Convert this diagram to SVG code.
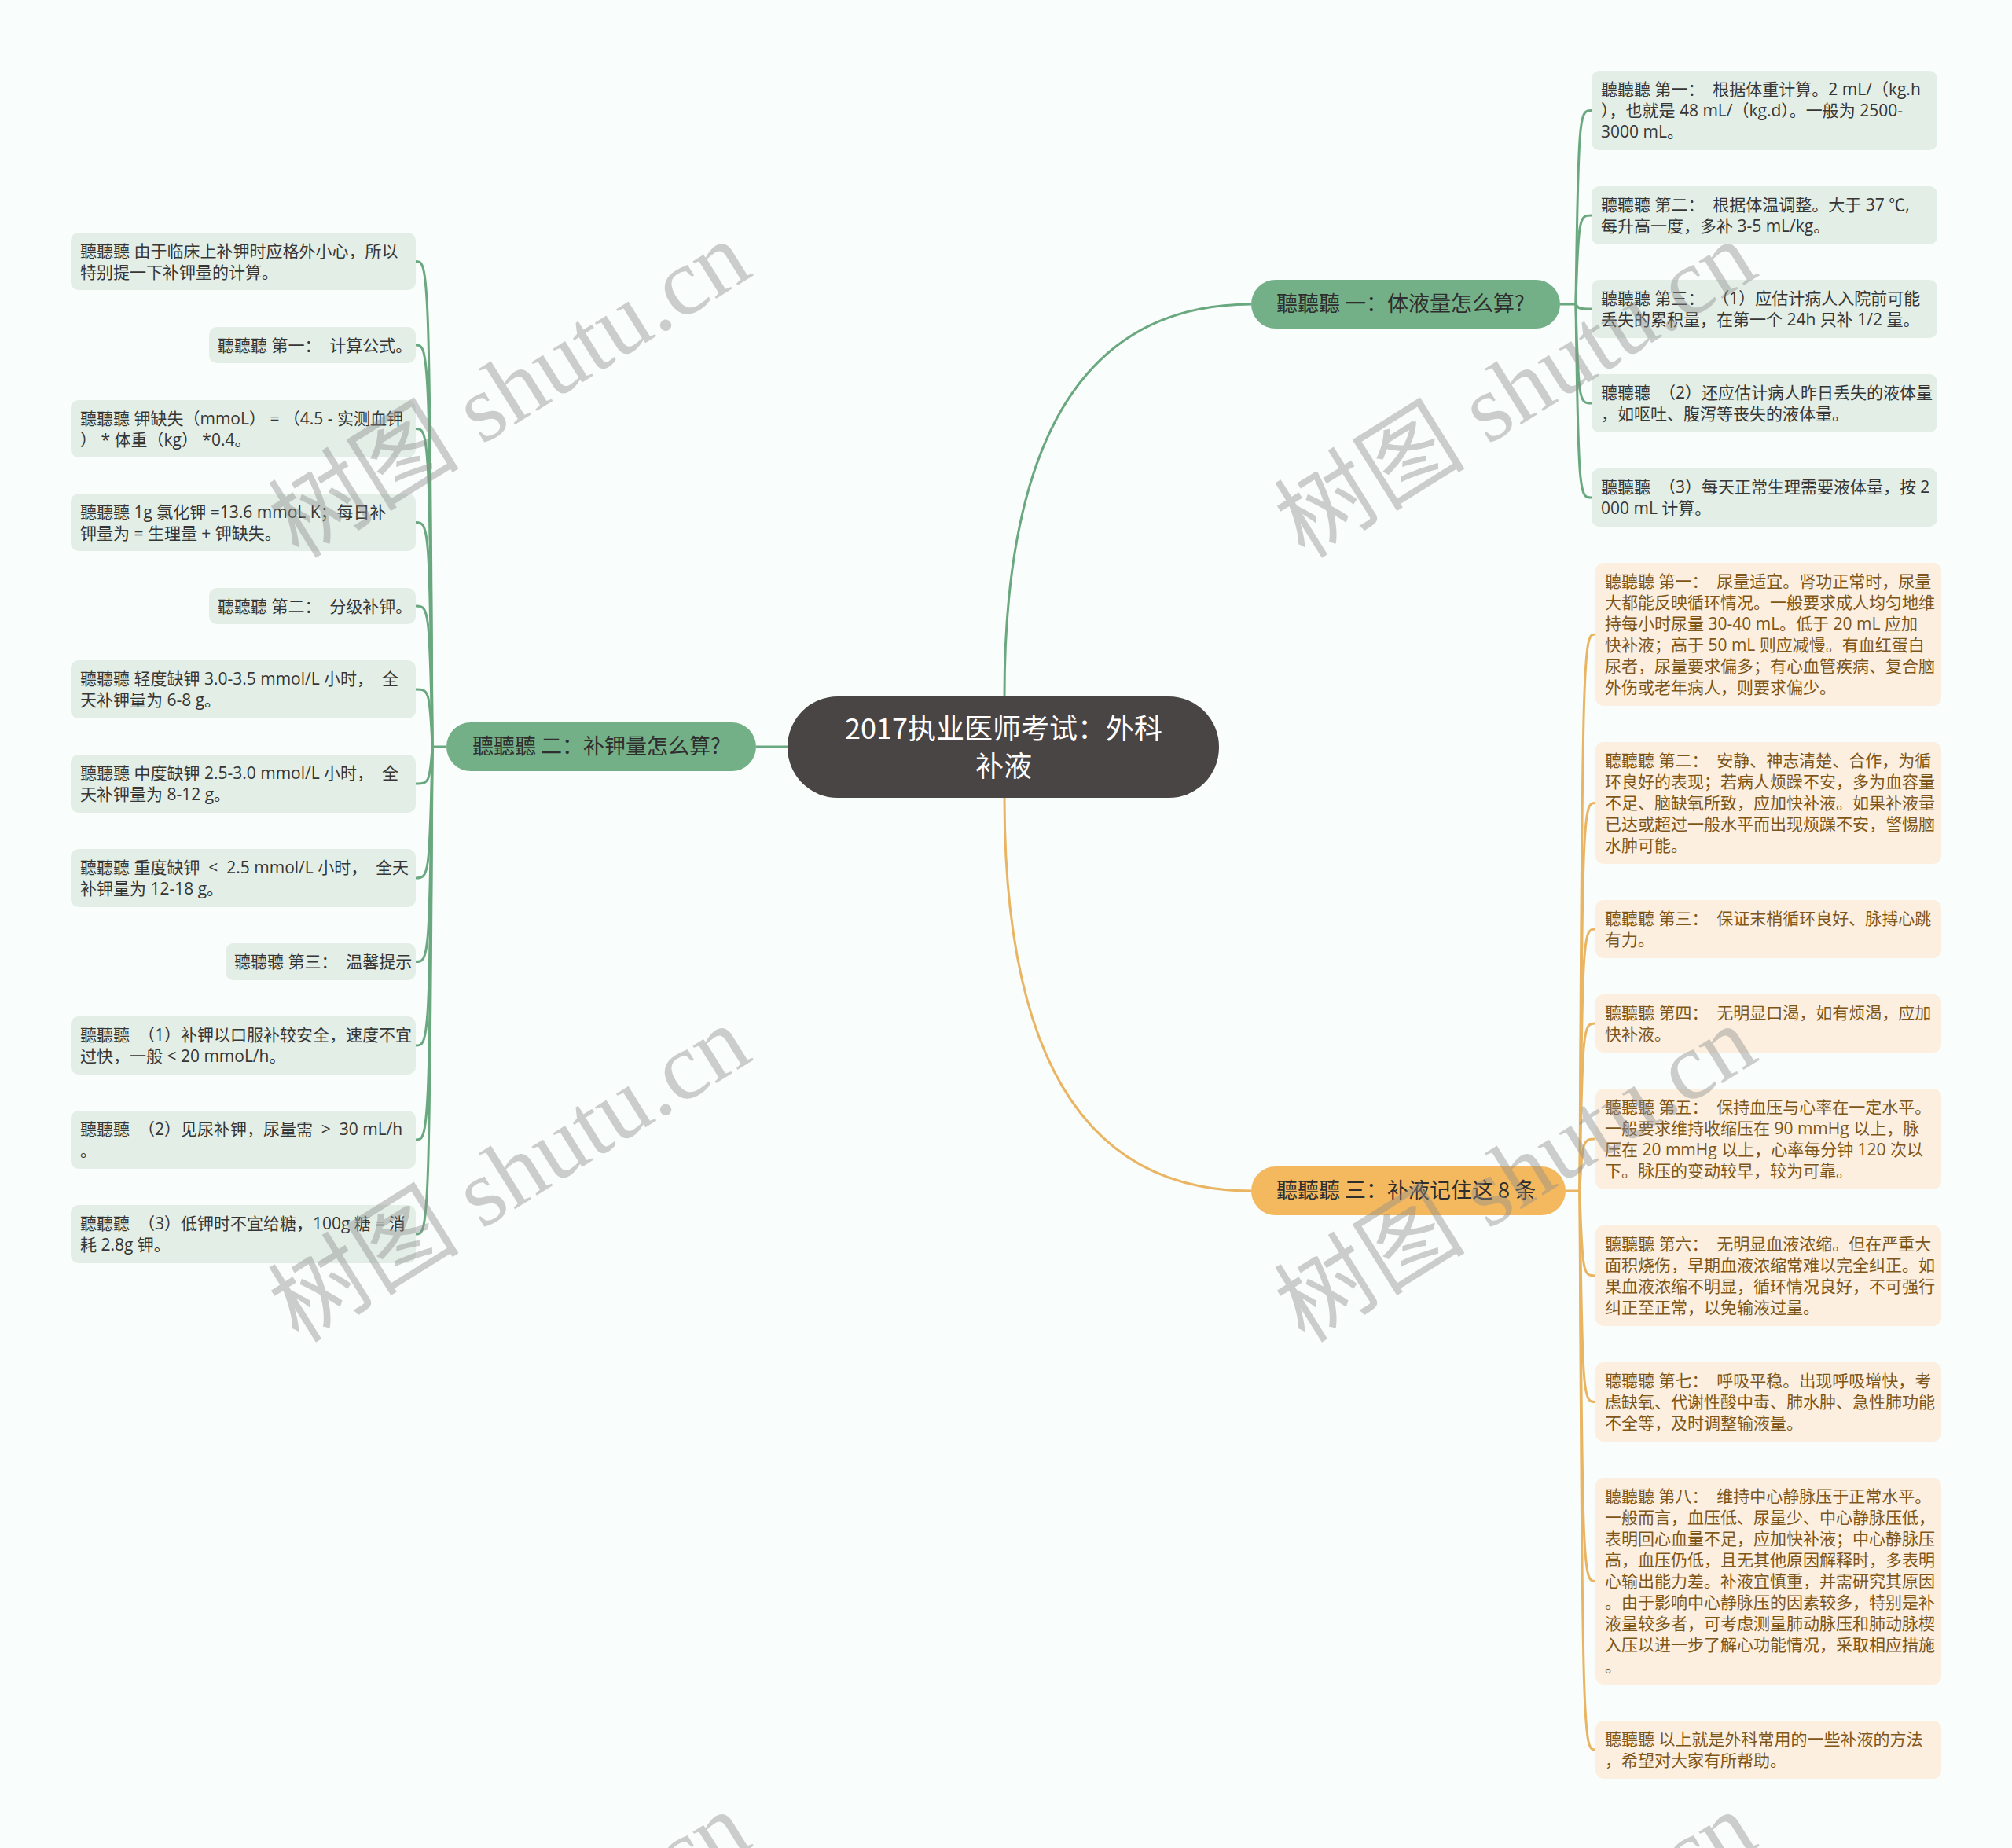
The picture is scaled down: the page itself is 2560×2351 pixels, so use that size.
<svg xmlns="http://www.w3.org/2000/svg" width="2560" height="2351" viewBox="0 0 2560 2351">
<style>
text{white-space:pre}
.bg{fill:#f9fdfc}
.lg{fill:#e3eee6}
.lo{fill:#fcefdf}
.t{font-family:"Open Sans","Noto Sans CJK SC",sans-serif;font-size:21px}
.tg{fill:#363636}
.to{fill:#7e5619}
.bt{font-family:"Noto Sans CJK SC",sans-serif;font-size:27px;fill:#2e2e2e}
.cg{fill:none;stroke:#6aa87f;stroke-width:3}
.co{fill:none;stroke:#e9b562;stroke-width:3}
.wm{font-family:"Liberation Serif","Noto Sans CJK SC",serif;font-size:122px;fill:#8c8c8c;opacity:0.42}
</style>
<rect class="bg" x="0" y="0" width="2560" height="2351"/>

<g id="connectors">
<path class="cg" d="M1278 886 Q1278 387 1592 387"/>
<path class="co" d="M1278 1015 Q1278 1515 1592 1515"/>
<path class="cg" d="M1002 950 L962 950"/>
<path class="cg" d="M1985 387 L2005 387"/>
<path class="cg" d="M2005 387 C2008 140.5 2010 140.5 2025 140.5"/>
<path class="cg" d="M2005 387 C2008 274 2010 274 2025 274"/>
<path class="cg" d="M2005 387 C2008 393 2010 393 2025 393"/>
<path class="cg" d="M2005 387 C2008 513 2010 513 2025 513"/>
<path class="cg" d="M2005 387 C2008 633 2010 633 2025 633"/>
<path class="cg" d="M568 950 L550 950"/>
<path class="cg" d="M550 950 C547 332.5 545 332.5 529 332.5"/>
<path class="cg" d="M550 950 C547 439 545 439 529 439"/>
<path class="cg" d="M550 950 C547 545.5 545 545.5 529 545.5"/>
<path class="cg" d="M550 950 C547 664.5 545 664.5 529 664.5"/>
<path class="cg" d="M550 950 C547 771 545 771 529 771"/>
<path class="cg" d="M550 950 C547 877 545 877 529 877"/>
<path class="cg" d="M550 950 C547 997 545 997 529 997"/>
<path class="cg" d="M550 950 C547 1117 545 1117 529 1117"/>
<path class="cg" d="M550 950 C547 1223.5 545 1223.5 529 1223.5"/>
<path class="cg" d="M550 950 C547 1330 545 1330 529 1330"/>
<path class="cg" d="M550 950 C547 1450 545 1450 529 1450"/>
<path class="cg" d="M550 950 C547 1570 545 1570 529 1570"/>
<path class="co" d="M1992 1515 L2010 1515"/>
<path class="co" d="M2010 1515 C2013 807 2015 807 2030 807"/>
<path class="co" d="M2010 1515 C2013 1021.5 2015 1021.5 2030 1021.5"/>
<path class="co" d="M2010 1515 C2013 1182 2015 1182 2030 1182"/>
<path class="co" d="M2010 1515 C2013 1302 2015 1302 2030 1302"/>
<path class="co" d="M2010 1515 C2013 1449 2015 1449 2030 1449"/>
<path class="co" d="M2010 1515 C2013 1623 2015 1623 2030 1623"/>
<path class="co" d="M2010 1515 C2013 1783.5 2015 1783.5 2030 1783.5"/>
<path class="co" d="M2010 1515 C2013 2011.5 2015 2011.5 2030 2011.5"/>
<path class="co" d="M2010 1515 C2013 2226 2015 2226 2030 2226"/>
</g>

<g id="center">
<rect x="1002" y="886" width="549" height="129" rx="64" fill="#4a4545"/>
<text x="1277" y="940" text-anchor="middle" font-family="Noto Sans CJK SC, sans-serif" font-size="36" fill="#ffffff">2017执业医师考试：外科</text>
<text x="1277" y="988" text-anchor="middle" font-family="Noto Sans CJK SC, sans-serif" font-size="36" fill="#ffffff">补液</text>
</g>

<g id="branch1">
<rect x="1592" y="356" width="393" height="62" rx="31" fill="#74b087"/>
<text class="bt" x="1624" y="396">聽聽聽 一：体液量怎么算?</text>
</g>
<g id="branch2">
<rect x="568" y="919" width="394" height="62" rx="31" fill="#74b087"/>
<text class="bt" x="601" y="959">聽聽聽 二：补钾量怎么算?</text>
</g>
<g id="branch3">
<rect x="1592" y="1484" width="400" height="62" rx="31" fill="#f4b95f"/>
<text class="bt" x="1624" y="1524">聽聽聽 三：补液记住这 8 条</text>
</g>

<g id="g1"><rect class="lg" x="2025" y="90" width="440" height="101" rx="10"/>
<text class="t tg" x="2037" y="121"><tspan x="2037">聽聽聽 第一：  根据体重计算。2 mL/（kg.h</tspan><tspan x="2037" dy="27">），也就是 48 mL/（kg.d）。一般为 2500-</tspan><tspan x="2037" dy="27">3000 mL。</tspan></text></g>
<g id="g2"><rect class="lg" x="2025" y="237" width="440" height="74" rx="10"/>
<text class="t tg" x="2037" y="268"><tspan x="2037">聽聽聽 第二：  根据体温调整。大于 37 ℃,</tspan><tspan x="2037" dy="27">每升高一度，多补 3-5 mL/kg。</tspan></text></g>
<g id="g3"><rect class="lg" x="2025" y="356" width="440" height="74" rx="10"/>
<text class="t tg" x="2037" y="387"><tspan x="2037">聽聽聽 第三：  （1）应估计病人入院前可能</tspan><tspan x="2037" dy="27">丢失的累积量，在第一个 24h 只补 1/2 量。</tspan></text></g>
<g id="g4"><rect class="lg" x="2025" y="476" width="440" height="74" rx="10"/>
<text class="t tg" x="2037" y="507"><tspan x="2037">聽聽聽  （2）还应估计病人昨日丢失的液体量</tspan><tspan x="2037" dy="27">，如呕吐、腹泻等丧失的液体量。</tspan></text></g>
<g id="g5"><rect class="lg" x="2025" y="596" width="440" height="74" rx="10"/>
<text class="t tg" x="2037" y="627"><tspan x="2037">聽聽聽  （3）每天正常生理需要液体量，按 2</tspan><tspan x="2037" dy="27">000 mL 计算。</tspan></text></g>

<g id="la"><rect class="lg" x="90" y="296" width="439" height="73" rx="10"/>
<text class="t tg" x="102" y="327"><tspan x="102">聽聽聽 由于临床上补钾时应格外小心，所以</tspan><tspan x="102" dy="27">特别提一下补钾量的计算。</tspan></text></g>
<g id="lb"><rect class="lg" x="266" y="416" width="263" height="46" rx="10"/>
<text class="t tg" x="277" y="447">聽聽聽 第一：  计算公式。</text></g>
<g id="lc"><rect class="lg" x="90" y="509" width="439" height="73" rx="10"/>
<text class="t tg" x="102" y="540"><tspan x="102">聽聽聽 钾缺失（mmoL） = （4.5 - 实测血钾</tspan><tspan x="102" dy="27">） * 体重（kg） *0.4。</tspan></text></g>
<g id="ld"><rect class="lg" x="90" y="628" width="439" height="73" rx="10"/>
<text class="t tg" x="102" y="659"><tspan x="102">聽聽聽 1g 氯化钾 =13.6 mmoL K；每日补</tspan><tspan x="102" dy="27">钾量为 = 生理量 + 钾缺失。</tspan></text></g>
<g id="le"><rect class="lg" x="266" y="748" width="263" height="46" rx="10"/>
<text class="t tg" x="277" y="779">聽聽聽 第二：  分级补钾。</text></g>
<g id="lf"><rect class="lg" x="90" y="840" width="439" height="74" rx="10"/>
<text class="t tg" x="102" y="871"><tspan x="102">聽聽聽 轻度缺钾 3.0-3.5 mmol/L 小时，  全</tspan><tspan x="102" dy="27">天补钾量为 6-8 g。</tspan></text></g>
<g id="lgg"><rect class="lg" x="90" y="960" width="439" height="74" rx="10"/>
<text class="t tg" x="102" y="991"><tspan x="102">聽聽聽 中度缺钾 2.5-3.0 mmol/L 小时，  全</tspan><tspan x="102" dy="27">天补钾量为 8-12 g。</tspan></text></g>
<g id="lh"><rect class="lg" x="90" y="1080" width="439" height="74" rx="10"/>
<text class="t tg" x="102" y="1111"><tspan x="102">聽聽聽 重度缺钾  &lt;  2.5 mmol/L 小时，  全天</tspan><tspan x="102" dy="27">补钾量为 12-18 g。</tspan></text></g>
<g id="li"><rect class="lg" x="287" y="1200" width="242" height="47" rx="10"/>
<text class="t tg" x="298" y="1231">聽聽聽 第三：  温馨提示</text></g>
<g id="lj"><rect class="lg" x="90" y="1293" width="439" height="74" rx="10"/>
<text class="t tg" x="102" y="1324"><tspan x="102">聽聽聽  （1）补钾以口服补较安全，速度不宜</tspan><tspan x="102" dy="27">过快，一般 &lt; 20 mmoL/h。</tspan></text></g>
<g id="lk"><rect class="lg" x="90" y="1413" width="439" height="74" rx="10"/>
<text class="t tg" x="102" y="1444"><tspan x="102">聽聽聽  （2）见尿补钾，尿量需  &gt;  30 mL/h</tspan><tspan x="102" dy="27">。</tspan></text></g>
<g id="ll"><rect class="lg" x="90" y="1533" width="439" height="74" rx="10"/>
<text class="t tg" x="102" y="1564"><tspan x="102">聽聽聽  （3）低钾时不宜给糖，100g 糖 = 消</tspan><tspan x="102" dy="27">耗 2.8g 钾。</tspan></text></g>

<g id="r1"><rect class="lo" x="2030" y="716" width="440" height="182" rx="10"/>
<text class="t to" x="2042" y="747"><tspan x="2042">聽聽聽 第一：  尿量适宜。肾功正常时，尿量</tspan><tspan x="2042" dy="27">大都能反映循环情况。一般要求成人均匀地维</tspan><tspan x="2042" dy="27">持每小时尿量 30-40 mL。低于 20 mL 应加</tspan><tspan x="2042" dy="27">快补液；高于 50 mL 则应减慢。有血红蛋白</tspan><tspan x="2042" dy="27">尿者，尿量要求偏多；有心血管疾病、复合脑</tspan><tspan x="2042" dy="27">外伤或老年病人，则要求偏少。</tspan></text></g>
<g id="r2"><rect class="lo" x="2030" y="944" width="440" height="155" rx="10"/>
<text class="t to" x="2042" y="975"><tspan x="2042">聽聽聽 第二：  安静、神志清楚、合作，为循</tspan><tspan x="2042" dy="27">环良好的表现；若病人烦躁不安，多为血容量</tspan><tspan x="2042" dy="27">不足、脑缺氧所致，应加快补液。如果补液量</tspan><tspan x="2042" dy="27">已达或超过一般水平而出现烦躁不安，警惕脑</tspan><tspan x="2042" dy="27">水肿可能。</tspan></text></g>
<g id="r3"><rect class="lo" x="2030" y="1145" width="440" height="74" rx="10"/>
<text class="t to" x="2042" y="1176"><tspan x="2042">聽聽聽 第三：  保证末梢循环良好、脉搏心跳</tspan><tspan x="2042" dy="27">有力。</tspan></text></g>
<g id="r4"><rect class="lo" x="2030" y="1265" width="440" height="74" rx="10"/>
<text class="t to" x="2042" y="1296"><tspan x="2042">聽聽聽 第四：  无明显口渴，如有烦渴，应加</tspan><tspan x="2042" dy="27">快补液。</tspan></text></g>
<g id="r5"><rect class="lo" x="2030" y="1385" width="440" height="128" rx="10"/>
<text class="t to" x="2042" y="1416"><tspan x="2042">聽聽聽 第五：  保持血压与心率在一定水平。</tspan><tspan x="2042" dy="27">一般要求维持收缩压在 90 mmHg 以上，脉</tspan><tspan x="2042" dy="27">压在 20 mmHg 以上，心率每分钟 120 次以</tspan><tspan x="2042" dy="27">下。脉压的变动较早，较为可靠。</tspan></text></g>
<g id="r6"><rect class="lo" x="2030" y="1559" width="440" height="128" rx="10"/>
<text class="t to" x="2042" y="1590"><tspan x="2042">聽聽聽 第六：  无明显血液浓缩。但在严重大</tspan><tspan x="2042" dy="27">面积烧伤，早期血液浓缩常难以完全纠正。如</tspan><tspan x="2042" dy="27">果血液浓缩不明显，循环情况良好，不可强行</tspan><tspan x="2042" dy="27">纠正至正常，以免输液过量。</tspan></text></g>
<g id="r7"><rect class="lo" x="2030" y="1733" width="440" height="101" rx="10"/>
<text class="t to" x="2042" y="1764"><tspan x="2042">聽聽聽 第七：  呼吸平稳。出现呼吸增快，考</tspan><tspan x="2042" dy="27">虑缺氧、代谢性酸中毒、肺水肿、急性肺功能</tspan><tspan x="2042" dy="27">不全等，及时调整输液量。</tspan></text></g>
<g id="r8"><rect class="lo" x="2030" y="1880" width="440" height="263" rx="10"/>
<text class="t to" x="2042" y="1911"><tspan x="2042">聽聽聽 第八：  维持中心静脉压于正常水平。</tspan><tspan x="2042" dy="27">一般而言，血压低、尿量少、中心静脉压低，</tspan><tspan x="2042" dy="27">表明回心血量不足，应加快补液；中心静脉压</tspan><tspan x="2042" dy="27">高，血压仍低，且无其他原因解释时，多表明</tspan><tspan x="2042" dy="27">心输出能力差。补液宜慎重，并需研究其原因</tspan><tspan x="2042" dy="27">。由于影响中心静脉压的因素较多，特别是补</tspan><tspan x="2042" dy="27">液量较多者，可考虑测量肺动脉压和肺动脉楔</tspan><tspan x="2042" dy="27">入压以进一步了解心功能情况，采取相应措施</tspan><tspan x="2042" dy="27">。</tspan></text></g>
<g id="r9"><rect class="lo" x="2030" y="2189" width="440" height="74" rx="10"/>
<text class="t to" x="2042" y="2220"><tspan x="2042">聽聽聽 以上就是外科常用的一些补液的方法</tspan><tspan x="2042" dy="27">，希望对大家有所帮助。</tspan></text></g>

<g id="watermarks">
<text class="wm" transform="translate(380,712) rotate(-32)">树图 shutu.cn</text>
<text class="wm" transform="translate(1660,712) rotate(-32)">树图 shutu.cn</text>
<text class="wm" transform="translate(380,1710) rotate(-32)">树图 shutu.cn</text>
<text class="wm" transform="translate(1660,1710) rotate(-32)">树图 shutu.cn</text>
<text class="wm" transform="translate(380,2710) rotate(-32)">树图 shutu.cn</text>
<text class="wm" transform="translate(1660,2710) rotate(-32)">树图 shutu.cn</text>
</g>
</svg>
